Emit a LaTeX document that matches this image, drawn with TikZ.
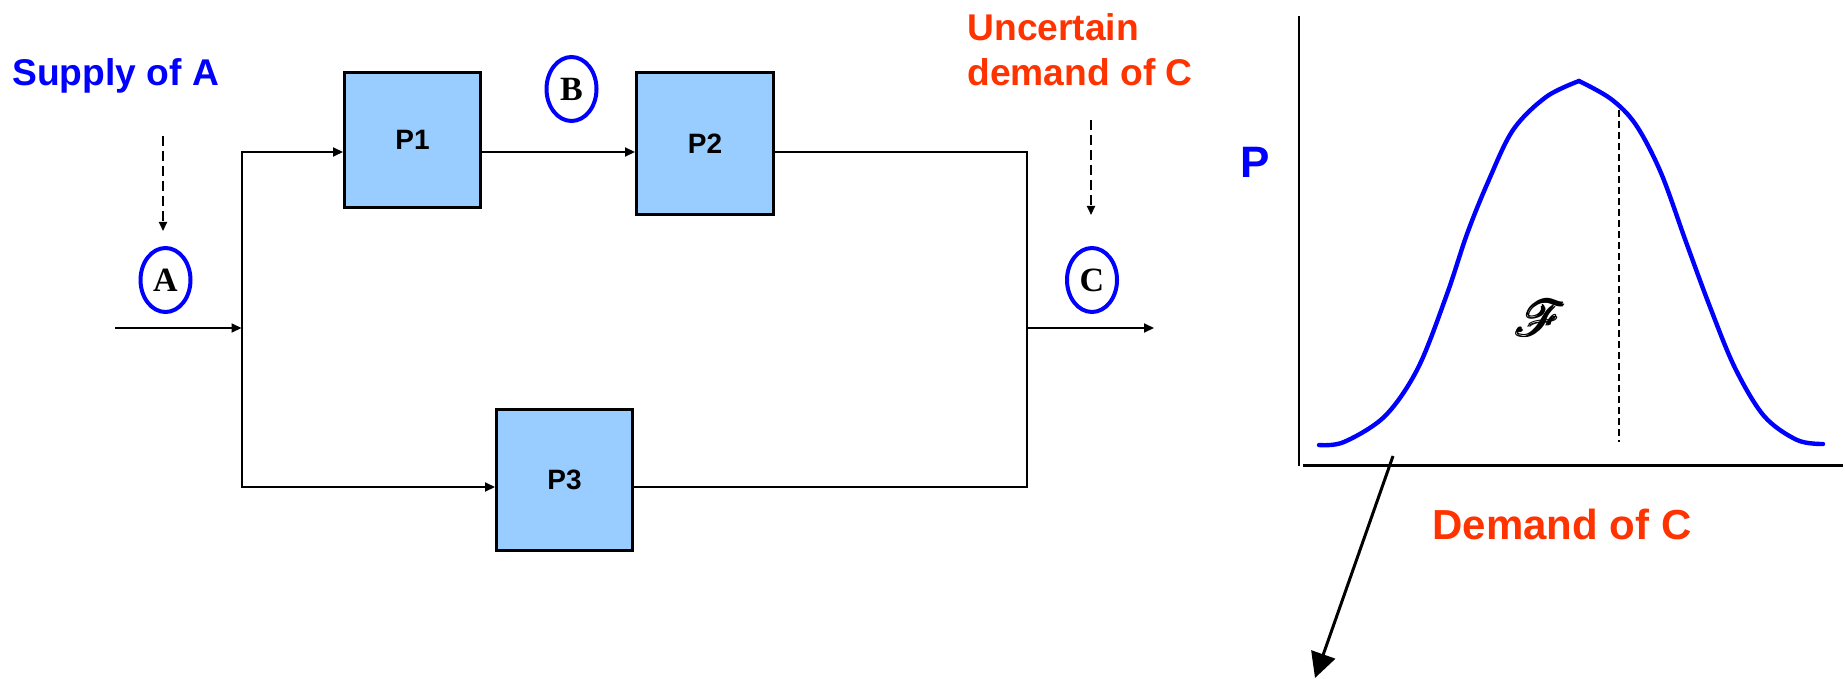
\documentclass[tikz,border=0pt]{standalone}
\usepackage{amsmath}
\usepackage{mathrsfs}
\usepackage{fontspec}
\setmainfont{Liberation Sans}
\newfontfamily\serifb{Liberation Serif}
\usetikzlibrary{shapes.geometric,arrows.meta}
\definecolor{boxblue}{HTML}{99CCFF}
\definecolor{orangered}{HTML}{FF3300}
\definecolor{pureblue}{HTML}{0000FF}
\tikzset{
  proc/.style={draw=black, line width=1.5pt, fill=boxblue, inner sep=0pt,
    font=\fontsize{14}{14}\selectfont\bfseries},
  stream/.style={ellipse, draw=pureblue, line width=2pt, inner sep=0pt,
    minimum width=25pt, minimum height=32pt,
    font=\serifb\bfseries\fontsize{17}{17}\selectfont},
  flow/.style={line width=1pt, -{Triangle[length=5pt,width=4.5pt]}},
  plainline/.style={line width=1pt},
  dasharrow/.style={line width=0.9pt, dash pattern=on 5pt off 2.5pt,
    -{Triangle[length=4.5pt,width=4pt]}},
  curve/.style={draw=pureblue, line width=2.2pt, line cap=round, line join=round}
}
\begin{document}
\begin{tikzpicture}[x=0.5pt,y=-0.5pt]
\useasboundingbox (0,0) rectangle (1845,679);

% process boxes
\node[proc, minimum width=68pt, minimum height=67.5pt] (P1) at (412.5,140) {P1};
\node[proc, minimum width=68.5pt, minimum height=71pt] (P2) at (705,143.5) {P2};
\node[proc, minimum width=68pt, minimum height=70.5pt] (P3) at (564.5,480) {P3};

% stream ellipses
\node[stream] (A) at (165.5,280) {A};
\node[stream] (B) at (571.5,89) {B};
\node[stream] (C) at (1092,280) {C};

% labels
\node[anchor=base west, inner sep=0pt, text=pureblue,
  font=\fontsize{18.6}{18.6}\selectfont\bfseries] (supply) at (12,86) {Supply of A};
\node[anchor=north west, inner sep=0pt, align=left, text=orangered,
  font=\fontsize{18.6}{22.5}\selectfont\bfseries] (unc) at (967,13) {Uncertain\\demand of C};

% coordinates for connectors
\coordinate (top) at (0,152);
\coordinate (bot) at (0,487);
\coordinate (in) at (115,328);
\coordinate (split) at (241.5,328);
\coordinate (merge) at (1027,328);
\coordinate (out) at (1154,328);
\coordinate (sa1) at (163,136);
\coordinate (sa2) at (163,231);
\coordinate (sc1) at (1091,120);
\coordinate (sc2) at (1091,215);

\draw[flow] (in) -- (split);
\draw[flow] (split) |- (P1.west |- top);
\draw[flow] (split) |- (P3.west |- bot);
\draw[flow] (P1.east |- top) -- (P2.west |- top);
\draw[plainline] (P2.east |- top) -| (merge);
\draw[plainline] (P3.east |- bot) -| (merge);
\draw[flow] (merge) -- (out);
\draw[dasharrow] (sa1) -- (sa2);
\draw[dasharrow] (sc1) -- (sc2);

% distribution chart
\coordinate (ytop) at (1299,16.5);
\coordinate (ybot) at (1299,465.6);
\coordinate (xl) at (1303,465);
\coordinate (xr) at (1843,465);
\draw[line width=1pt] (ytop) -- (ybot);
\draw[line width=1.5pt] (xl) -- (xr);

\draw[curve] plot[smooth, tension=0.55] coordinates {(1319,445) (1344,442) (1385,416) (1418,368) (1447,294) (1467,234) (1488,182) (1513,130) (1546,97) (1579,81)};
\draw[curve] plot[smooth, tension=0.55] coordinates {(1579,81) (1611,99) (1636,125) (1661,173) (1686,242) (1710,307) (1735,368) (1764,416) (1797,440) (1823,444)};

\coordinate (dl1) at (1619,110);
\coordinate (dl2) at (1619,442);
\draw[line width=0.8pt, dash pattern=on 3.5pt off 2pt] (dl1) -- (dl2);

\node[text=pureblue, font=\fontsize{22}{22}\selectfont\bfseries] (plab) at (1255,162) {P};
\node[text=orangered, font=\fontsize{21}{21}\selectfont\bfseries] (dem) at (1562,524) {Demand of C};
\node (F) at (1541,318) {\fontsize{27}{27}\selectfont$\pmb{\mathscr{F}}$};

\coordinate (ar1) at (1393,456);
\coordinate (ar2) at (1315,678);
\draw[line width=1.5pt, -{Triangle[length=12.5pt,width=12.5pt]}] (ar1) -- (ar2);
\end{tikzpicture}
\end{document}
